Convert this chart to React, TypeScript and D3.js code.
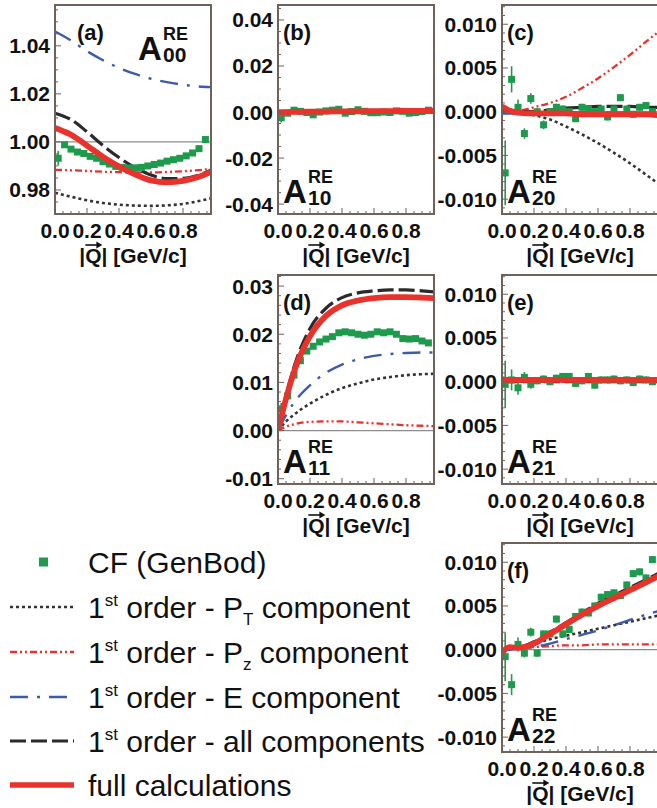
import React from 'react';
import * as d3 from 'd3';

const FONT = '"Liberation Sans", Arial, Helvetica, sans-serif';

// x grid of the model curves and of the CF (GenBod) points
const QC = [0, 0.05, 0.1, 0.2, 0.3, 0.4, 0.5, 0.6, 0.7, 0.8, 0.9, 0.975];
const QF = [0.02, 0.06, 0.10, 0.14, 0.18, 0.22, 0.26, 0.30, 0.34, 0.38, 0.42, 0.46,
  0.50, 0.54, 0.58, 0.62, 0.66, 0.70, 0.74, 0.78, 0.82, 0.86, 0.90, 0.94];
const X_TICKS = [0, 0.2, 0.4, 0.6, 0.8];

// (a) A00
const aPT = [0.9788, 0.9780, 0.9772, 0.9757, 0.9746, 0.9739, 0.9735, 0.9734, 0.9736, 0.9742, 0.9754, 0.9765];
const aPZ = [0.9884, 0.9883, 0.9882, 0.9879, 0.9876, 0.9874, 0.9873, 0.9873, 0.9875, 0.9878, 0.9883, 0.9888];
const aE = [1.0460, 1.0442, 1.0422, 1.0378, 1.0340, 1.0308, 1.0283, 1.0263, 1.0249, 1.0238, 1.0231, 1.0228];
const aAll = [1.0119, 1.0108, 1.0093, 1.0042, 0.9985, 0.9935, 0.9893, 0.9862, 0.9847, 0.9848, 0.9862, 0.9882];
const aFull = [1.0058, 1.0045, 1.0030, 0.9985, 0.9938, 0.9898, 0.9865, 0.9840, 0.9832, 0.9838, 0.9855, 0.9875];
const aCF = [0.9932, 0.9988, 0.9970, 0.9958, 0.9952, 0.9940, 0.9932, 0.9918, 0.9908, 0.9898, 0.9894, 0.9892,
  0.9892, 0.9894, 0.9900, 0.9906, 0.9912, 0.9920, 0.9926, 0.9932, 0.9942, 0.9954, 0.9972, 1.0010];
const aErr = [0.0030, 0.0012, 0.0008, 0.0005, 0.0004, 0.0004, 0.0004, 0.0004, 0.0004, 0.0004, 0.0004, 0.0004,
  0.0004, 0.0004, 0.0004, 0.0004, 0.0004, 0.0004, 0.0004, 0.0004, 0.0004, 0.0004, 0.0004, 0.0004];
const aTicks = [0.98, 1.0, 1.02, 1.04];

// (b) A10
const bZero = [0, 0, 0, 0, 0, 0, 0, 0, 0, 0, 0, 0];
const bFull = [0.0000, 0.0000, 0.0001, 0.0002, 0.0002, 0.0003, 0.0003, 0.0004, 0.0004, 0.0005, 0.0005, 0.0006];
const bCF = [-0.0025, -0.0005, 0.0008, 0.0003, -0.0002, -0.0012, 0.0000, 0.0005, 0.0008, 0.0012, -0.0005, 0.0002,
  0.0010, 0.0003, -0.0003, -0.0003, 0.0000, -0.0002, 0.0005, 0.0003, -0.0005, -0.0002, 0.0002, 0.0008];
const bErr = [0.0020, 0.0010, 0.0006, 0.0005, 0.0005, 0.0005, 0.0005, 0.0005, 0.0005, 0.0005, 0.0005, 0.0005,
  0.0005, 0.0005, 0.0005, 0.0005, 0.0005, 0.0005, 0.0005, 0.0005, 0.0005, 0.0005, 0.0005, 0.0005];
const bTicks = [-0.04, -0.02, 0, 0.02, 0.04];

// (c) A20
const cPT = [0, -0.00002, -0.0001, -0.0004, -0.0009, -0.0017, -0.0026, -0.0036, -0.0047, -0.0059, -0.0072, -0.0082];
const cPZ = [0, 0.00003, 0.0001, 0.0005, 0.0010, 0.0017, 0.0027, 0.0038, 0.0051, 0.0065, 0.0080, 0.0091];
const cE = [-0.0002, -0.0002, -0.0002, -0.0002, -0.0001, -0.0001, -0.0001, -0.0001, -0.0001, -0.0002, -0.0002, -0.0002];
const cAll = [0.0003, 0.0001, 0.0000, 0.0000, 0.0002, 0.0004, 0.0005, 0.0006, 0.0006, 0.0006, 0.0005, 0.0005];
const cFull = [0.0006, 0.0001, -0.0001, -0.0002, -0.0002, -0.0002, -0.0003, -0.0003, -0.0003, -0.0003, -0.0003, -0.0004];
const cCF = [-0.0070, 0.0037, 0.0005, -0.0025, 0.0015, 0.0000, -0.0015, 0.0000, 0.0005, 0.0003, 0.0000, -0.0008,
  0.0005, 0.0003, 0.0000, 0.0003, -0.0006, 0.0003, 0.0016, 0.0003, -0.0003, 0.0005, 0.0007, 0.0000];
const cErr = [0.0037, 0.0015, 0.0009, 0.0006, 0.0006, 0.0004, 0.0005, 0.0004, 0.0004, 0.0004, 0.0004, 0.0004,
  0.0004, 0.0004, 0.0004, 0.0004, 0.0004, 0.0004, 0.0004, 0.0004, 0.0004, 0.0004, 0.0004, 0.0004];
const smallTicks = [-0.01, -0.005, 0, 0.005, 0.01];

// (d) A11
const dPT = [0, 0.0019, 0.0033, 0.0056, 0.0074, 0.0088, 0.0098, 0.0106, 0.0111, 0.0115, 0.0117, 0.0118];
const dPZ = [0, 0.0008, 0.0013, 0.0018, 0.0019, 0.0019, 0.0017, 0.0015, 0.0013, 0.0011, 0.0010, 0.0009];
const dE = [0, 0.0032, 0.0058, 0.0094, 0.0120, 0.0137, 0.0148, 0.0155, 0.0159, 0.0161, 0.0162, 0.0162];
const dAll = [0, 0.0072, 0.0132, 0.0212, 0.0254, 0.0276, 0.0286, 0.0290, 0.0292, 0.0292, 0.0290, 0.0288];
const dFull = [0, 0.0066, 0.0122, 0.0196, 0.0238, 0.0260, 0.0270, 0.0275, 0.0277, 0.0277, 0.0276, 0.0275];
const dCF = [0.0045, 0.0072, 0.0115, 0.0145, 0.0165, 0.0175, 0.0184, 0.0190, 0.0195, 0.0203, 0.0205, 0.0203,
  0.0200, 0.0198, 0.0200, 0.0205, 0.0203, 0.0205, 0.0200, 0.0191, 0.0190, 0.0191, 0.0186, 0.0182];
const dErr = [0.0012, 0.0008, 0.0005, 0.0004, 0.0004, 0.0004, 0.0004, 0.0004, 0.0004, 0.0004, 0.0004, 0.0004,
  0.0004, 0.0004, 0.0004, 0.0004, 0.0004, 0.0004, 0.0004, 0.0004, 0.0004, 0.0004, 0.0004, 0.0004];
const dTicks = [-0.01, 0, 0.01, 0.02, 0.03];

// (e) A21
const eZero = [0, 0, 0, 0, 0, 0, 0, 0, 0, 0, 0, 0];
const eFull = [0.0003, 0.0002, 0.0002, 0.0002, 0.0002, 0.0002, 0.0002, 0.0002, 0.0002, 0.0002, 0.0002, 0.0002];
const eCF = [-0.0003, 0.0002, -0.0007, 0.0005, -0.0003, 0.0001, 0.0003, 0.0000, 0.0004, 0.0006, 0.0006, -0.0002,
  0.0001, 0.0006, -0.0004, 0.0002, 0.0002, 0.0003, 0.0001, 0.0002, -0.0001, 0.0003, 0.0002, 0.0000];
const eErr = [0.0027, 0.0012, 0.0008, 0.0006, 0.0005, 0.0004, 0.0004, 0.0004, 0.0004, 0.0004, 0.0004, 0.0004,
  0.0004, 0.0004, 0.0004, 0.0004, 0.0004, 0.0004, 0.0004, 0.0004, 0.0004, 0.0004, 0.0004, 0.0004];

// (f) A22
const fPT = [0, 0.0001, 0.0003, 0.0007, 0.0012, 0.0016, 0.0020, 0.0024, 0.0028, 0.0032, 0.0036, 0.0039];
const fPZ = [0, 0.0001, 0.0002, 0.0003, 0.0004, 0.0005, 0.0005, 0.0006, 0.0006, 0.0006, 0.0006, 0.0006];
const fE = [0, 0, 0.0001, 0.0003, 0.0007, 0.0012, 0.0017, 0.0022, 0.0028, 0.0034, 0.0040, 0.0044];
const fAll = [-0.0002, 0.0003, 0.0003, 0.0009, 0.0020, 0.0031, 0.0042, 0.0053, 0.0062, 0.0071, 0.0080, 0.0087];
const fFull = [-0.0003, 0.0003, 0.0002, 0.0007, 0.0018, 0.0029, 0.0040, 0.0050, 0.0059, 0.0068, 0.0077, 0.0084];
const fCF = [-0.0008, -0.0040, 0.0006, -0.0004, 0.0020, -0.0004, 0.0018, 0.0018, 0.0035, 0.0018, 0.0023, 0.0038,
  0.0043, 0.0042, 0.0050, 0.0060, 0.0063, 0.0065, 0.0062, 0.0074, 0.0087, 0.0089, 0.0082, 0.0103];
const fErr = [0.0028, 0.0012, 0.0008, 0.0005, 0.0005, 0.0004, 0.0004, 0.0004, 0.0004, 0.0004, 0.0004, 0.0004,
  0.0004, 0.0004, 0.0004, 0.0004, 0.0004, 0.0004, 0.0004, 0.0004, 0.0004, 0.0004, 0.0004, 0.0004];

const LEGEND = ['CF (GenBod)', 'PT', 'PZ', 'E', 'all', 'full calculations'];

const GREEN = '#1e9a4c';
const RED = '#e8322b';
const BLUE = '#3b5ca8';
const DARK = '#2a2a2a';
const FRAME = '#6e625b';

const STYLES: Record<string, { stroke: string; width: number; dash?: string }> = {
  PT: { stroke: '#333', width: 2.6, dash: '3,3' },
  PZ: { stroke: RED, width: 2.3, dash: '7,3,2,3,2,3' },
  E: { stroke: BLUE, width: 2.4, dash: '18,9,3,9' },
  all: { stroke: DARK, width: 3.2, dash: '16,5' },
  full: { stroke: RED, width: 5.8 },
};

const W = 156;
const H = 209;
const AX = 21; // axis font size

type PanelDef = {
  id: string;
  left: number;
  top: number;
  domain: [number, number];
  ticks: number[];
  minor: number;
  fmt: string;
  ref: number;
  curves: { key: string; vals: number[] }[];
  cf: number[];
  err: number[];
  sub: string;
  aTop?: boolean;
  labelDx: number;
};

const PANELS: PanelDef[] = [
  { id: 'a', left: 55, top: 5, domain: [0.970, 1.057], ticks: aTicks, minor: 0.005, fmt: '.2f', ref: 1.0,
    curves: [{ key: 'PT', vals: aPT }, { key: 'PZ', vals: aPZ }, { key: 'E', vals: aE }, { key: 'all', vals: aAll }, { key: 'full', vals: aFull }],
    cf: aCF, err: aErr, sub: '00', aTop: true, labelDx: 22 },
  { id: 'b', left: 278, top: 5, domain: [-0.0443, 0.0465], ticks: bTicks, minor: 0.005, fmt: '.2f', ref: 0,
    curves: [{ key: 'PT', vals: bZero }, { key: 'PZ', vals: bZero }, { key: 'E', vals: bZero }, { key: 'all', vals: bZero }, { key: 'full', vals: bFull }],
    cf: bCF, err: bErr, sub: '10', labelDx: 5 },
  { id: 'c', left: 502, top: 5, domain: [-0.0117, 0.0122], ticks: smallTicks, minor: 0.001, fmt: '.3f', ref: 0,
    curves: [{ key: 'PT', vals: cPT }, { key: 'PZ', vals: cPZ }, { key: 'E', vals: cE }, { key: 'all', vals: cAll }, { key: 'full', vals: cFull }],
    cf: cCF, err: cErr, sub: '20', labelDx: 5 },
  { id: 'd', left: 278, top: 275, domain: [-0.0111, 0.0323], ticks: dTicks, minor: 0.002, fmt: '.2f', ref: 0,
    curves: [{ key: 'PT', vals: dPT }, { key: 'PZ', vals: dPZ }, { key: 'E', vals: dE }, { key: 'all', vals: dAll }, { key: 'full', vals: dFull }],
    cf: dCF, err: dErr, sub: '11', labelDx: 5 },
  { id: 'e', left: 502, top: 275, domain: [-0.0117, 0.0122], ticks: smallTicks, minor: 0.001, fmt: '.3f', ref: 0,
    curves: [{ key: 'PT', vals: eZero }, { key: 'PZ', vals: eZero }, { key: 'E', vals: eZero }, { key: 'all', vals: eZero }, { key: 'full', vals: eFull }],
    cf: eCF, err: eErr, sub: '21', labelDx: 5 },
  { id: 'f', left: 502, top: 543, domain: [-0.0117, 0.0122], ticks: smallTicks, minor: 0.001, fmt: '.3f', ref: 0,
    curves: [{ key: 'PT', vals: fPT }, { key: 'PZ', vals: fPZ }, { key: 'E', vals: fE }, { key: 'all', vals: fAll }, { key: 'full', vals: fFull }],
    cf: fCF, err: fErr, sub: '22', labelDx: 5 },
];

function Panel({ p }: { p: PanelDef }) {
  const x = d3.scaleLinear().domain([0, 0.975]).range([p.left, p.left + W]);
  const y = d3.scaleLinear().domain(p.domain).range([p.top + H, p.top]);
  const bottom = p.top + H;
  const line = d3.line<number>().x((_, i) => x(QC[i])).y((d) => y(d)).curve(d3.curveMonotoneX);
  const fmt = (v: number) => d3.format(p.fmt)(v).replace('\u2212', '-');
  const minorY = d3.range(Math.ceil(p.domain[0] / p.minor), Math.floor(p.domain[1] / p.minor) + 1).map((k) => k * p.minor);
  const minorX = d3.range(0, 20).map((k) => k * 0.05).filter((v) => v <= 0.975);
  const cx = p.left + W / 2;
  const titleW = 5.11 * AX;
  const titleStart = cx - titleW / 2;
  const clipId = `clip-${p.id}`;
  const aX = p.aTop ? p.left + 83 : p.left + p.labelDx;
  const aBase = p.aTop ? p.top + 55 : bottom - 11;
  return (
    <g>
      <defs>
        <clipPath id={clipId}>
          <rect x={p.left} y={p.top} width={W} height={H} />
        </clipPath>
      </defs>
      <g clipPath={`url(#${clipId})`}>
        <line x1={p.left} x2={p.left + W} y1={y(p.ref)} y2={y(p.ref)} stroke="#8c8c8c" strokeWidth={1.2} />
        {p.curves.filter((c) => c.key !== 'full').map((c) => {
          const s = STYLES[c.key];
          return <path key={c.key} d={line(c.vals) || ''} fill="none" stroke={s.stroke} strokeWidth={s.width} strokeDasharray={s.dash} />;
        })}
        {p.cf.map((v, i) => (
          <g key={i}>
            <line x1={x(QF[i])} x2={x(QF[i])} y1={y(v - p.err[i])} y2={y(v + p.err[i])} stroke={GREEN} strokeWidth={1.6} />
            <rect x={x(QF[i]) - 3.5} y={y(v) - 3.5} width={7} height={7} fill={GREEN} />
          </g>
        ))}
        {p.curves.filter((c) => c.key === 'full').map((c) => (
          <path key={c.key} d={line(c.vals) || ''} fill="none" stroke={RED} strokeWidth={STYLES.full.width} />
        ))}
      </g>
      {minorY.map((v, i) => {
        const major = p.ticks.some((t) => Math.abs(t - v) < 1e-9);
        return <line key={`my${i}`} x1={p.left} x2={p.left + (major ? 6 : 3)} y1={y(v)} y2={y(v)} stroke={FRAME} strokeWidth={1} />;
      })}
      {minorX.map((v, i) => {
        const major = X_TICKS.some((t) => Math.abs(t - v) < 1e-9);
        return <line key={`mx${i}`} x1={x(v)} x2={x(v)} y1={bottom} y2={bottom - (major ? 6 : 3)} stroke={FRAME} strokeWidth={1} />;
      })}
      <rect x={p.left} y={p.top} width={W} height={H} fill="none" stroke={FRAME} strokeWidth={2} />
      {p.ticks.map((v) => (
        <text key={`yl${v}`} x={p.left - 5} y={y(v) + 7.5} textAnchor="end" fontFamily={FONT} fontWeight="bold" fontSize={AX} fill="#111">
          {fmt(v)}
        </text>
      ))}
      {X_TICKS.map((v) => (
        <text key={`xl${v}`} x={x(v)} y={bottom + 24} textAnchor="middle" fontFamily={FONT} fontWeight="bold" fontSize={AX} fill="#111">
          {d3.format('.1f')(v)}
        </text>
      ))}
      <text x={titleStart} y={bottom + 49} fontFamily={FONT} fontWeight="bold" fontSize={AX} fill="#111">|Q| [GeV/c]</text>
      <line x1={titleStart + 6} x2={titleStart + 21} y1={bottom + 31} y2={bottom + 31} stroke="#111" strokeWidth={1.6} />
      <path d={`M${titleStart + 23},${bottom + 31} l-6,-3.5 l0,7 z`} fill="#111" />
      <text x={p.left + p.labelDx} y={p.top + 35} fontFamily={FONT} fontWeight="bold" fontSize={22} fill="#111">({p.id})</text>
      <text x={aX} y={aBase} fontFamily={FONT} fontWeight="bold" fontSize={33} fill="#111">A</text>
      <text x={aX + 25} y={aBase - 20} fontFamily={FONT} fontWeight="bold" fontSize={18} fill="#111">RE</text>
      <text x={aX + 25} y={aBase + 2} fontFamily={FONT} fontWeight="bold" fontSize={21} fill="#111">{p.sub}</text>
    </g>
  );
}

function Legend() {
  const rows = [562, 607, 652, 697, 741, 785];
  const fs = 30;
  const tx = 88;
  const first = (base: number, sub: string | null, rest: string) => (
    <text x={tx} y={base} fontFamily={FONT} fontSize={fs} fill="#111">
      1<tspan fontSize={17} dy={-12}>st</tspan>
      <tspan dy={12}>{sub ? ' order - P' : ' order - ' + rest}</tspan>
      {sub && <tspan fontSize={17} dy={7}>{sub}</tspan>}
      {sub && <tspan dy={-7}>{rest}</tspan>}
    </text>
  );
  return (
    <g>
      <rect x={39} y={rows[0] - 4.5} width={9} height={9} fill={GREEN} />
      <text x={tx} y={rows[0] + 11} fontFamily={FONT} fontSize={fs} fill="#111">{LEGEND[0]}</text>
      {['PT', 'PZ', 'E', 'all'].map((k, i) => {
        const s = STYLES[k];
        return <line key={k} x1={10} x2={74} y1={rows[i + 1]} y2={rows[i + 1]} stroke={s.stroke} strokeWidth={s.width} strokeDasharray={s.dash} />;
      })}
      {first(rows[1] + 11, 'T', ' component')}
      {first(rows[2] + 11, 'z', ' component')}
      {first(rows[3] + 11, null, 'E component')}
      {first(rows[4] + 11, null, 'all components')}
      <line x1={10} x2={74} y1={rows[5]} y2={rows[5]} stroke={RED} strokeWidth={5.5} />
      <text x={tx} y={rows[5] + 11} fontFamily={FONT} fontSize={fs} fill="#111">{LEGEND[5]}</text>
    </g>
  );
}

export default function App() {
  return (
    <svg width={657} height={808} style={{ position: 'absolute', left: 0, top: 0, background: '#fff' }}>
      <rect width={657} height={808} fill="#fff" />
      {PANELS.map((p) => <Panel key={p.id} p={p} />)}
      <Legend />
    </svg>
  );
}
